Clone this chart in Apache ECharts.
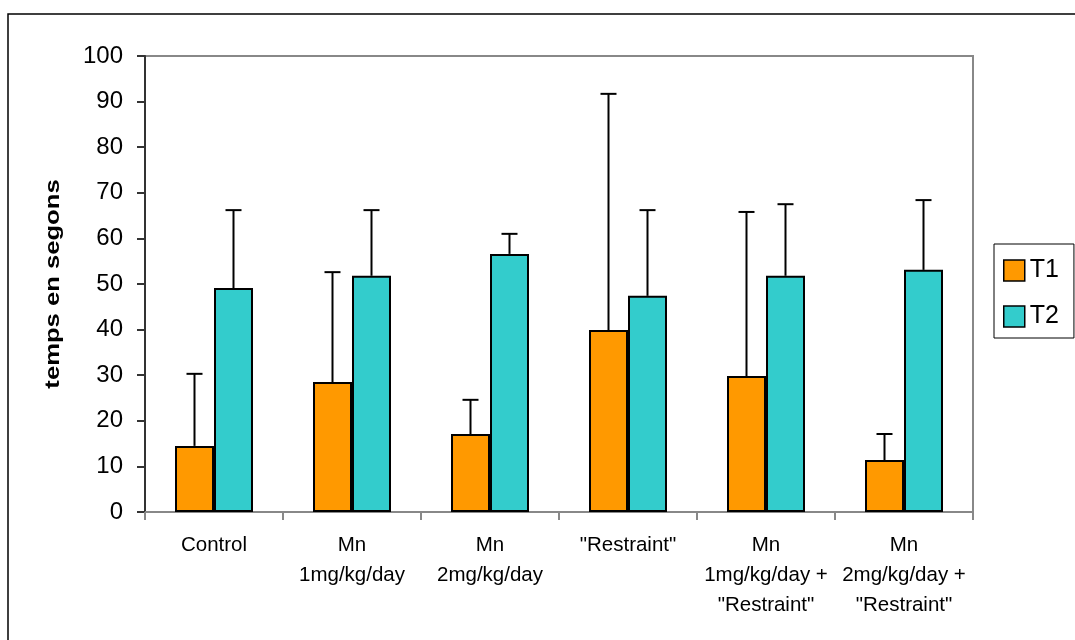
<!DOCTYPE html>
<html>
<head>
<meta charset="utf-8">
<style>html,body{margin:0;padding:0;background:#fff}#c{width:1075px;height:640px}</style>
<script src="https://cdn.jsdelivr.net/npm/echarts@6/dist/echarts.min.js"></script>
</head>
<body>
<div id="c"></div>
<script>
const categories = ['Control', 'Mn\n1mg/kg/day', 'Mn\n2mg/kg/day', '"Restraint"', 'Mn\n1mg/kg/day +\n"Restraint"', 'Mn\n2mg/kg/day +\n"Restraint"'];
const t1 = [14.5, 28.5, 17.1, 39.9, 29.8, 11.4];
const t1Err = [15.8, 24.1, 7.5, 51.8, 36.0, 5.7];
const t2 = [49.1, 51.8, 56.6, 47.4, 51.8, 53.1];
const t2Err = [17.1, 14.4, 4.4, 18.8, 15.7, 15.3];
const yTicks = [0, 10, 20, 30, 40, 50, 60, 70, 80, 90, 100];
const yTitle = 'temps en segons';

const BAR_W = 39;
function errSeries(vals, errs, sign) {
  return {
    type: 'custom',
    z: 5,
    silent: true,
    data: vals.map((v, i) => [i, v, v + errs[i]]),
    renderItem: function (params, api) {
      const i = api.value(0);
      const base = api.coord([i, api.value(1)]);
      const top = api.coord([i, api.value(2)]);
      const x = base[0] + sign * BAR_W / 2;
      const cap = 8;
      const st = { stroke: '#000', lineWidth: 2 };
      return {
        type: 'group',
        children: [
          { type: 'line', shape: { x1: x, y1: base[1], x2: x, y2: top[1] }, style: st },
          { type: 'line', shape: { x1: x - cap, y1: top[1], x2: x + cap, y2: top[1] }, style: st }
        ]
      };
    }
  };
}

const chart = echarts.init(document.getElementById('c'));
chart.setOption({
  animation: false,
  textStyle: { fontFamily: 'Liberation Sans, Arial, sans-serif' },
  graphic: [{
    type: 'rect', shape: { x: 8, y: 14, width: 1200, height: 800 },
    style: { fill: null, stroke: '#000', lineWidth: 1.5 }, z: -10, silent: true
  }, {
    type: 'text', x: 53, y: 284, rotation: Math.PI / 2, scaleX: 1.22,
    style: { text: yTitle, font: 'bold 21px "Liberation Sans", Arial, sans-serif',
      fill: '#000', align: 'center', verticalAlign: 'middle' },
    silent: true
  }],
  grid: { left: 145, top: 56, right: 102, bottom: 128, show: true, borderColor: '#888', borderWidth: 2, backgroundColor: '#fff' },
  legend: {
    orient: 'vertical', left: 994, top: 244,
    padding: [14, 15, 9, 9],
    borderColor: '#000', borderWidth: 1,
    itemWidth: 21, itemHeight: 21, itemGap: 21,
    icon: 'rect',
    itemStyle: { borderColor: '#000', borderWidth: 1.5 },
    textStyle: { fontSize: 25, color: '#000' },
    data: ['T1', 'T2']
  },
  xAxis: {
    type: 'category', data: categories,
    axisLine: { lineStyle: { color: '#888', width: 2 } },
    axisTick: { show: true, length: 8, lineStyle: { color: '#888', width: 2 } },
    axisLabel: { fontSize: 20.5, color: '#000', lineHeight: 30, margin: 18, interval: 0 }
  },
  yAxis: {
    type: 'value', min: 0, max: 100, interval: 10,
    axisLine: { show: true, lineStyle: { color: '#333', width: 2 } },
    axisTick: { show: true, length: 8, lineStyle: { color: '#333', width: 2 } },
    splitLine: { show: false },
    axisLabel: { fontSize: 24, color: '#000', margin: 22,
      formatter: v => yTicks.includes(v) ? String(v) : '' }
  },
  series: [
    { name: 'T1', type: 'bar', data: t1, barWidth: BAR_W, barGap: '0%',
      itemStyle: { color: '#FF9900', borderColor: '#000', borderWidth: 2 } },
    { name: 'T2', type: 'bar', data: t2, barWidth: BAR_W, barGap: '0%',
      itemStyle: { color: '#33CCCC', borderColor: '#000', borderWidth: 2 } },
    errSeries(t1, t1Err, -1),
    errSeries(t2, t2Err, 1)
  ]
});
</script>
</body>
</html>
